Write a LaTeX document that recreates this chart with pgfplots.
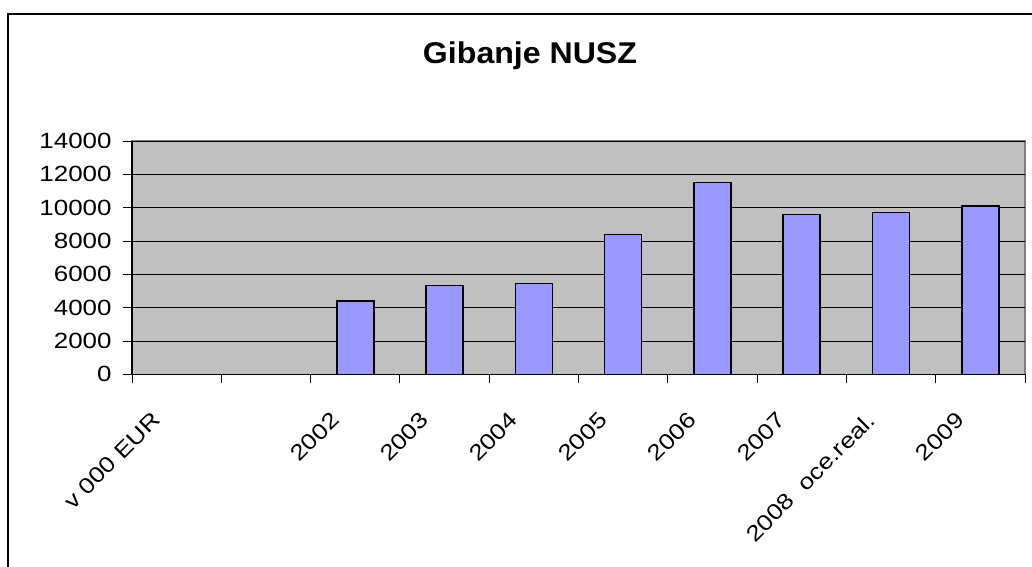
\documentclass[border=0pt]{standalone}
\usepackage{fontspec}
\setmainfont{Liberation Sans}
\newfontfamily\tickfont[FakeStretch=1.18]{Liberation Sans}
\newfontfamily\titlefont[FakeStretch=1.07]{Liberation Sans}
\usepackage{pgfplots}
\pgfplotsset{compat=1.18}
\definecolor{plotbg}{HTML}{C0C0C0}
\definecolor{barfill}{HTML}{9999FF}
\definecolor{frameg}{HTML}{808080}
\begin{document}
\begin{tikzpicture}
\useasboundingbox (0pt,0pt) rectangle (774pt,425.25pt);
\clip (0pt,0pt) rectangle (774pt,425.25pt);
\draw[line width=1.3pt] (6.2pt,-10pt) -- (6.2pt,414.75pt) -- (790pt,414.75pt);
\node[font=\titlefont\fontsize{22.5}{27}\selectfont\bfseries, anchor=base] at (397.5pt,377.6pt) {Gibanje NUSZ};
\begin{axis}[at={(99pt,144.5pt)}, anchor=south west, scale only axis,
  width=669.75pt, height=175pt,
  xmin=-0.5, xmax=9.5, ymin=0, ymax=14000,
  ytick={0,2000,...,14000}, scaled y ticks=false,
  xtick={-0.5,0.5,...,9.5}, xticklabels={},
  extra x ticks={0,1,2,3,4,5,6,7,8,9},
  extra x tick labels={v 000 EUR,,2002,2003,2004,2005,2006,2007,2008\ \ oce.real.,2009},
  extra x tick style={major tick length=0pt, grid=none,
    tick label style={font=\tickfont\fontsize{16.5}{19}\selectfont, xshift=-12.5pt, yshift=-29pt, rotate=45, anchor=east}},
  axis x line*=bottom, axis y line*=left,
  axis line style={black, line width=0.8pt, -},
  tick align=outside, major tick length=6.75pt,
  tick style={black, line width=0.7pt},
  ymajorgrids, grid style={black, line width=0.6pt},
  axis background/.style={fill=plotbg, draw=frameg, line width=1.2pt},
  ybar, bar width=0.414,
  /pgf/number format/assume math mode=true,
  /pgf/number format/1000 sep={},
  y tick label style={font=\tickfont\fontsize{16.5}{19}\selectfont, xshift=-5pt},
  clip=false,
]
\addplot[fill=barfill, draw=black, line width=1.2pt] coordinates {(2,4400) (3,5320) (4,5440) (5,8400) (6,11520) (7,9580) (8,9720) (9,10100)};
\end{axis}
\end{tikzpicture}
\end{document}
